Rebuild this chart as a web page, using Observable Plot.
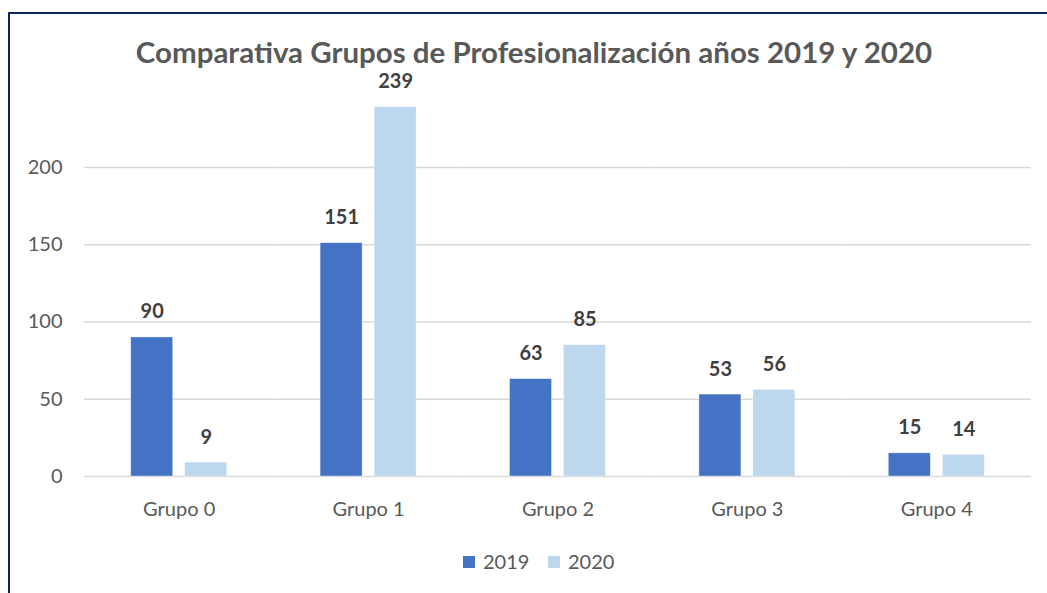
<!DOCTYPE html>
<html>
<head>
<meta charset="utf-8">
<script src="https://cdn.jsdelivr.net/npm/d3@7"></script>
<script src="https://cdn.jsdelivr.net/npm/@observablehq/plot@0.6"></script>
<style>
  html, body { margin: 0; padding: 0; background: #fff; }
  body { width: 1047px; height: 593px; position: relative; overflow: hidden; font-family: Lato, "Open Sans", sans-serif; }
  #frame { position: absolute; left: 8px; top: 12px; width: 1045px; height: 590px; border-left: 2px solid #0e2461; border-top: 2px solid #0e2461; }
  #title { position: absolute; left: 0; width: 1068px; top: 34px; text-align: center; font-weight: 700; color: #595959; white-space: nowrap; }
  #chart { position: absolute; left: 0; top: 0; }
  #legend { position: absolute; top: 546px; left: 0; width: 1047px; font-size: 20px; color: #595959; }
  .sw { position: absolute; width: 12px; height: 12px; top: 10px; }
  .lt { position: absolute; top: 0; line-height: 30px; }
</style>
</head>
<body>
<div id="frame"></div>
<div id="title">Comparativa Grupos de Profesionalización años 2019 y 2020</div>
<div id="chart"></div>
<div id="legend"></div>
<script>
const grupos = ["Grupo 0", "Grupo 1", "Grupo 2", "Grupo 3", "Grupo 4"];
const years = ["2019", "2020"];
const values2019 = [90, 151, 63, 53, 15];
const values2020 = [9, 239, 85, 56, 14];
const yTicks = [0, 50, 100, 150, 200];
const colors = ["#4472C4", "#BDD7EE"];

const data = [];
grupos.forEach((g, i) => {
  data.push({grupo: g, year: years[0], value: values2019[i]});
  data.push({grupo: g, year: years[1], value: values2020[i]});
});

// fit title width
const title = document.getElementById("title");
{
  const c = document.createElement("canvas").getContext("2d");
  c.font = "700 100px Lato";
  const w = c.measureText(title.textContent).width;
  title.style.fontSize = (100 * 798 / w).toFixed(2) + "px";
}

const chart = Plot.plot({
  width: 1047,
  height: 540,
  marginLeft: 84,
  marginRight: 16,
  marginTop: 89.7,
  marginBottom: 64,
  style: {fontFamily: "Lato, 'Open Sans', sans-serif", fontSize: "20px", color: "#595959", background: "transparent"},
  fx: {domain: grupos, padding: 0, round: false, label: null, axis: null},
  x: {domain: years, paddingInner: 0.222, paddingOuter: 0.865, round: false, axis: null},
  y: {domain: [0, 250], axis: null},
  color: {domain: years, range: colors},
  marks: [
    Plot.gridY(yTicks, {stroke: "#d9d9d9", strokeOpacity: 1, strokeWidth: 1.5}),
    Plot.axisY(yTicks, {tickSize: 0, tickPadding: 22, label: null, fill: "#595959"}),
    Plot.axisFx({anchor: "bottom", tickSize: 0, tickPadding: 25, label: null, fill: "#595959"}),
    Plot.barY(data, {fx: "grupo", x: "year", y: "value", fill: "year", stroke: "#fff", strokeOpacity: 0.5, strokeWidth: 0.75}),
    Plot.text(data, {fx: "grupo", x: "year", y: "value", text: d => String(d.value), dy: -19, lineAnchor: "bottom", fontWeight: "bold", fill: "#404040", fontSize: 20})
  ]
});
document.getElementById("chart").appendChild(chart);

// legend
const legend = document.getElementById("legend");
const lx = [463, 548];
years.forEach((y, i) => {
  const sw = document.createElement("div");
  sw.className = "sw";
  sw.style.left = lx[i] + "px";
  sw.style.background = colors[i];
  legend.appendChild(sw);
  const t = document.createElement("div");
  t.className = "lt";
  t.style.left = (lx[i] + 20) + "px";
  t.textContent = y;
  legend.appendChild(t);
});
</script>
</body>
</html>
